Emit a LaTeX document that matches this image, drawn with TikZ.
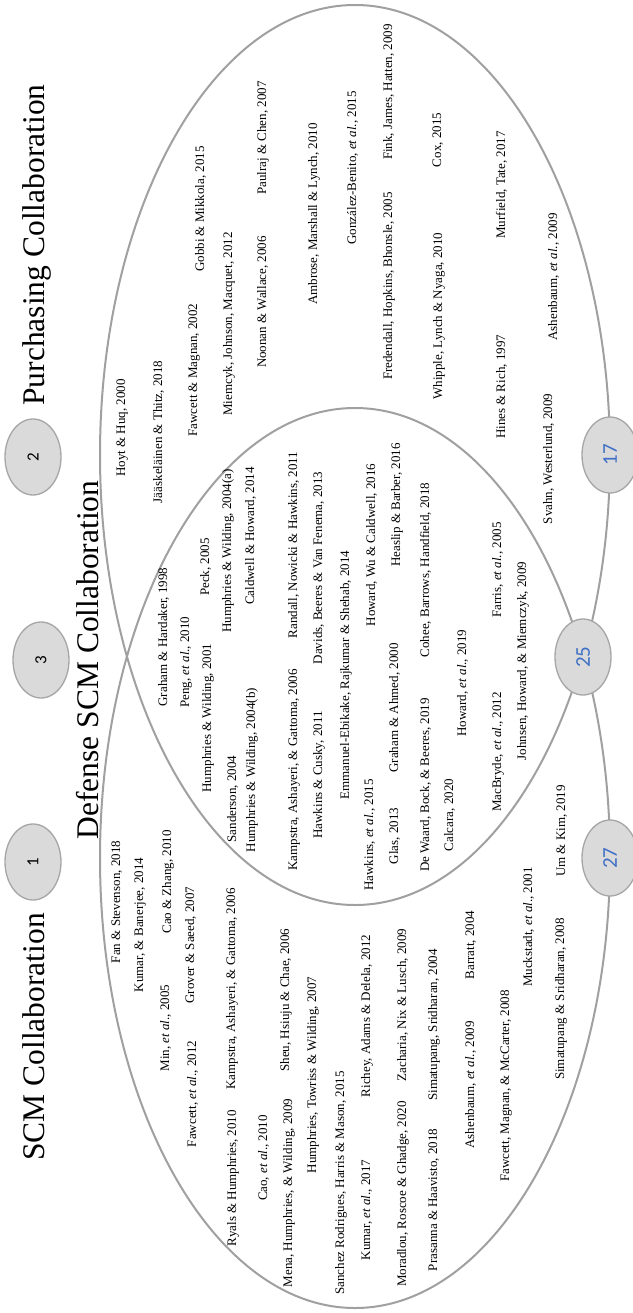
\documentclass[tikz,border=0pt]{standalone}
\usepackage{fontspec}
\setmainfont{Liberation Serif}
\newfontfamily\numfont{Carlito}
\usetikzlibrary{shapes.geometric}
\definecolor{rimgray}{HTML}{A0A0A0}
\definecolor{tagfill}{HTML}{DADADA}
\definecolor{tagedge}{HTML}{A6A6A6}
\definecolor{countblue}{HTML}{3F6FC6}
\newcommand{\etal}{{\itshape et al}}
\begin{document}
\begin{tikzpicture}[x=1pt,y=-1pt,
  ref/.style={font=\fontsize{13}{15}\selectfont, rotate=90, anchor=base, inner sep=0pt},
  heading/.style={font=\fontsize{31.5}{36}\selectfont, rotate=90, anchor=base, inner sep=0pt},
  tag/.style={ellipse, rotate=90, draw=tagedge, fill=tagfill, line width=1.3pt,
              minimum width=76pt, minimum height=56pt, inner sep=0pt},
  toptag/.style={tag, font=\numfont\fontsize{17}{20}\selectfont},
  counttag/.style={tag, font=\numfont\fontsize{21}{24}\selectfont, text=countblue},
  rim/.style={draw=rimgray, line width=2pt}
]
\fill[white] (0,0) rectangle (632,1313);
\useasboundingbox (0,0) rectangle (632,1313);

% the two overlapping sets
\draw[rim] (355,455) ellipse [x radius=255, y radius=450];
\draw[rim] (355,858) ellipse [x radius=255, y radius=450];

% headings
\node[heading] (hscm) at (44,1037) {SCM Collaboration};
\node[heading] (hpur) at (44,245) {Purchasing Collaboration};
\node[heading] (hdef) at (98,660) {Defense SCM Collaboration};

% numbered markers
\node[toptag] (t1) at (33,862) {1};
\node[toptag] (t2) at (33,457) {2};
\node[toptag] (t3) at (41,660) {3};
\node[counttag] (c27) at (610,858) {27};
\node[counttag] (c25) at (583,657) {25};
\node[counttag] (c17) at (610,455) {17};

% purchasing collaboration
\node[ref] (p1) at (125,428) {Hoyt \& Huq, 2000};
\node[ref] (p2) at (162,432) {Jääskeläinen \& Thitz, 2018};
\node[ref] (p3) at (197,370) {Fawcett \& Magnan, 2002};
\node[ref] (p4) at (204,209) {Gobbi \& Mikkola, 2015};
\node[ref] (p5) at (232,324) {Miemcyk, Johnson, Macquet, 2012};
\node[ref] (p6) at (266,302) {Noonan \& Wallace, 2006};
\node[ref] (p7) at (266,138) {Paulraj \& Chen, 2007};
\node[ref] (p8) at (317,214) {Ambrose, Marshall \& Lynch, 2010};
\node[ref] (p9) at (356,168) {González-Benito, \etal., 2015};
\node[ref] (p10) at (392,286) {Fredendall, Hopkins, Bhonsle, 2005};
\node[ref] (p11) at (392,92) {Fink, James, Hatten, 2009};
\node[ref] (p12) at (442,316) {Whipple, Lynch \& Nyaga, 2010};
\node[ref] (p13) at (441,140) {Cox, 2015};
\node[ref] (p14) at (505,387) {Hines \& Rich, 1997};
\node[ref] (p15) at (505,185) {Murfield, Tate, 2017};
\node[ref] (p16) at (552,459) {Svahn, Westerlund, 2009};
\node[ref] (p17) at (557,277) {Ashenbaum, \etal., 2009};

% defense SCM collaboration
\node[ref] (d1) at (167,637) {Graham \& Hardaker, 1998};
\node[ref] (d2) at (189,662) {Peng, \etal., 2010};
\node[ref] (d3) at (209,567) {Peck, 2005};
\node[ref] (d4) at (211,718) {Humphries \& Wilding, 2001};
\node[ref] (d5) at (231,551) {Humphries \& Wilding, 2004(a)};
\node[ref] (d6) at (236,799) {Sanderson, 2004};
\node[ref] (d7) at (254,536) {Caldwell \& Howard, 2014};
\node[ref] (d8) at (255,770) {Humphries \& Wilding, 2004(b)};
\node[ref] (d9) at (297,545) {Randall, Nowicki \& Hawkins, 2011};
\node[ref] (d10) at (297,770) {Kampstra, Ashayeri, \& Gattoma, 2006};
\node[ref] (d11) at (322,568) {Davids, Beeres \& Van Fenema, 2013};
\node[ref] (d12) at (322,775) {Hawkins \& Cusky, 2011};
\node[ref] (d13) at (349,675) {Emmanuel-Ebikake, Rajkumar \& Shehab, 2014};
\node[ref] (d14) at (375,545) {Howard, Wu \& Caldwell, 2016};
\node[ref] (d15) at (373,835) {Hawkins, \etal., 2015};
\node[ref] (d16) at (400,505) {Heaslip \& Barber, 2016};
\node[ref] (d17) at (398,708) {Graham \& Ahmed, 2000};
\node[ref] (d18) at (398,836) {Glas, 2013};
\node[ref] (d19) at (429,570) {Cohee, Barrows, Handfield, 2018};
\node[ref] (d20) at (429,785) {De Waard, Bock, \& Beeres, 2019};
\node[ref] (d21) at (466,683) {Howard, \etal., 2019};
\node[ref] (d22) at (453,815) {Calcara, 2020};
\node[ref] (d23) at (501,570) {Farris, \etal., 2005};
\node[ref] (d24) at (501,752) {MacBryde, \etal., 2012};
\node[ref] (d25) at (526,661) {Johnsen, Howard, \& Miemczyk, 2009};

% SCM collaboration
\node[ref] (s1) at (120,902) {Fan \& Stevenson, 2018};
\node[ref] (s2) at (143,925) {Kumar, \& Banerjee, 2014};
\node[ref] (s3) at (171,882) {Cao \& Zhang, 2010};
\node[ref] (s4) at (169,1028) {Min, \etal., 2005};
\node[ref] (s5) at (194,945) {Grover \& Saeed, 2007};
\node[ref] (s6) at (196,1094) {Fawcett, \etal., 2012};
\node[ref] (s7) at (235,989) {Kampstra, Ashayeri, \& Gattoma, 2006};
\node[ref] (s8) at (236,1178) {Ryals \& Humphries, 2010};
\node[ref] (s9) at (267,1158) {Cao, \etal., 2010};
\node[ref] (s10) at (289,1000) {Sheu, Hsiuju \& Chae, 2006};
\node[ref] (s11) at (292,1193) {Mena, Humphries, \& Wilding, 2009};
\node[ref] (s12) at (316,1075) {Humphries, Towriss \& Wilding, 2007};
\node[ref] (s13) at (344,1183) {Sanchez Rodrigues, Harris \& Mason, 2015};
\node[ref] (s14) at (370,1210) {Kumar, \etal., 2017};
\node[ref] (s15) at (370,1016) {Richey, Adams \& Delela, 2012};
\node[ref] (s16) at (406,1194) {Moradlou, Roscoe \& Ghadge, 2020};
\node[ref] (s17) at (406,1005) {Zacharia, Nix \& Lusch, 2009};
\node[ref] (s18) at (437,1200) {Prasanna \& Haavisto, 2018};
\node[ref] (s19) at (437,1025) {Simatupang, Sridharan, 2004};
\node[ref] (s20) at (474,1085) {Ashenbaum, \etal., 2009};
\node[ref] (s21) at (474,945) {Barratt, 2004};
\node[ref] (s22) at (509,1086) {Fawcett, Magnan, \& McCarter, 2008};
\node[ref] (s23) at (532,927) {Muckstadt, \etal., 2001};
\node[ref] (s24) at (564,999) {Simatupang \& Sridharan, 2008};
\node[ref] (s25) at (565,831) {Um \& Kim, 2019};
\end{tikzpicture}
\end{document}
